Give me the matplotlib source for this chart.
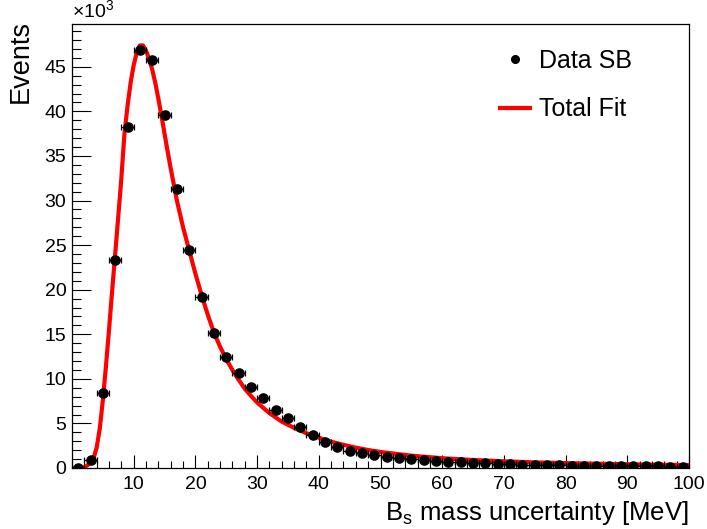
import numpy as np
import matplotlib
matplotlib.use("Agg")
import matplotlib.pyplot as plt
from matplotlib.lines import Line2D
from matplotlib.ticker import MultipleLocator

plt.rcParams['font.family'] = ['Liberation Sans', 'DejaVu Sans']
plt.rcParams['mathtext.fontset'] = 'custom'
plt.rcParams['mathtext.rm'] = 'Liberation Sans'

# Data (events in units of 10^3), bin centres in MeV, bin width 2 MeV
bin_centers = [1, 3, 5, 7, 9, 11, 13, 15, 17, 19, 21, 23, 25, 27, 29, 31, 33, 35, 37, 39,
               41, 43, 45, 47, 49, 51, 53, 55, 57, 59, 61, 63, 65, 67, 69, 71, 73, 75, 77, 79,
               81, 83, 85, 87, 89, 91, 93, 95, 97, 99]
data_sb = [0.05, 0.9, 8.45, 23.3, 38.3, 46.85, 45.8, 39.6, 31.3, 24.5, 19.2, 15.1, 12.5, 10.6, 9.1,
           7.8, 6.55, 5.6, 4.65, 3.7, 2.95, 2.3, 1.95, 1.72, 1.46, 1.27, 1.14, 0.97, 0.87, 0.78,
           0.70, 0.63, 0.57, 0.52, 0.47, 0.43, 0.39, 0.36, 0.33, 0.30, 0.28, 0.26, 0.24, 0.22,
           0.21, 0.19, 0.18, 0.17, 0.16, 0.15]
bin_half_width = [1.0] * len(bin_centers)

# Total fit curve (units of 10^3)
fit_x = [0, 1, 1.5, 2, 2.5, 3, 3.5, 4, 4.5, 5, 5.5, 6, 6.5, 7, 7.5, 8, 8.5, 9, 9.5, 10, 10.5, 11,
         11.5, 12, 12.5, 13, 13.5, 14, 14.5, 15, 15.5, 16, 17, 18, 19, 20, 21, 22, 23, 24, 25, 26,
         27, 28, 29, 30, 32, 34, 36, 38, 40, 42, 44, 46, 48, 50, 55, 60, 65, 70, 75, 80, 85, 90,
         95, 100]
fit_y = [0.0, 0.0, 0.02, 0.1, 0.3, 0.6, 1.1, 2.3, 4.4, 7.6, 11.4, 15.5, 19.8, 24.0, 28.2, 32.5,
         37.5, 40.6, 43.2, 45.2, 46.6, 47.4, 47.4, 46.8, 45.9, 44.7, 43.2, 41.4, 39.5, 37.5, 35.5,
         33.6, 30.0, 27.0, 24.4, 21.8, 19.4, 17.2, 15.2, 13.6, 12.2, 11.0, 9.9, 8.9, 8.1, 7.35,
         6.15, 5.2, 4.5, 3.9, 3.4, 2.95, 2.6, 2.28, 2.02, 1.8, 1.38, 1.1, 0.9, 0.75, 0.63, 0.55,
         0.48, 0.42, 0.37, 0.33]

x_ticks = [10, 20, 30, 40, 50, 60, 70, 80, 90, 100]
y_ticks = [0, 5, 10, 15, 20, 25, 30, 35, 40, 45]

W, H = 707, 529
fig = plt.figure(figsize=(W / 100, H / 100), dpi=100)
L, R, T, B = 72, 689, 24, 468
ax = fig.add_axes([L / W, (H - B) / H, (R - L) / W, (B - T) / H])

ax.plot(fit_x, fit_y, color='#ff0000', lw=3.0, solid_joinstyle='round', zorder=2)
ax.errorbar(bin_centers, data_sb, xerr=bin_half_width, fmt='o', color='black',
            ms=6.6, elinewidth=0.9, capsize=2.2, capthick=0.9, zorder=3)

ax.set_xlim(0, 100)
ax.set_ylim(0, 49.8)
ax.set_xticks(x_ticks)
ax.set_yticks(y_ticks)
ax.xaxis.set_minor_locator(MultipleLocator(2))
ax.yaxis.set_minor_locator(MultipleLocator(1))
ax.tick_params(axis='x', which='major', direction='in', length=9.4, width=0.8, labelsize=14, pad=6)
ax.tick_params(axis='x', which='minor', direction='in', length=4.8, width=0.8)
ax.tick_params(axis='y', which='major', direction='in', length=13.5, width=0.8, labelsize=14, pad=4)
ax.tick_params(axis='y', which='minor', direction='in', length=6.5, width=0.8)
for s in ax.spines.values():
    s.set_linewidth(0.9)

ax.set_xlabel(r'B$_{\mathregular{s}}$ mass uncertainty [MeV]', fontsize=18.5, loc='right', labelpad=4)
ax.set_ylabel('Events', fontsize=19.5, loc='top')
ax.yaxis.set_label_coords((34 - L) / (R - L), 1.01)

fig.text(L / W, (H - 18) / H, r'$\times$10$^{\mathregular{3}}$', fontsize=14, ha='left', va='baseline')

handles = [Line2D([], [], ls='none', marker='o', color='black', ms=5.5),
           Line2D([], [], color='#ff0000', lw=3)]
ax.legend(handles, ['Data SB', 'Total Fit'], loc='upper left',
          bbox_to_anchor=((500 - L) / (R - L), (B - 49) / (B - T)),
          frameon=False, fontsize=18, handlelength=1.2, handletextpad=0.35,
          labelspacing=0.98, borderpad=0, borderaxespad=0)

fig.savefig('out.png', dpi=100)
